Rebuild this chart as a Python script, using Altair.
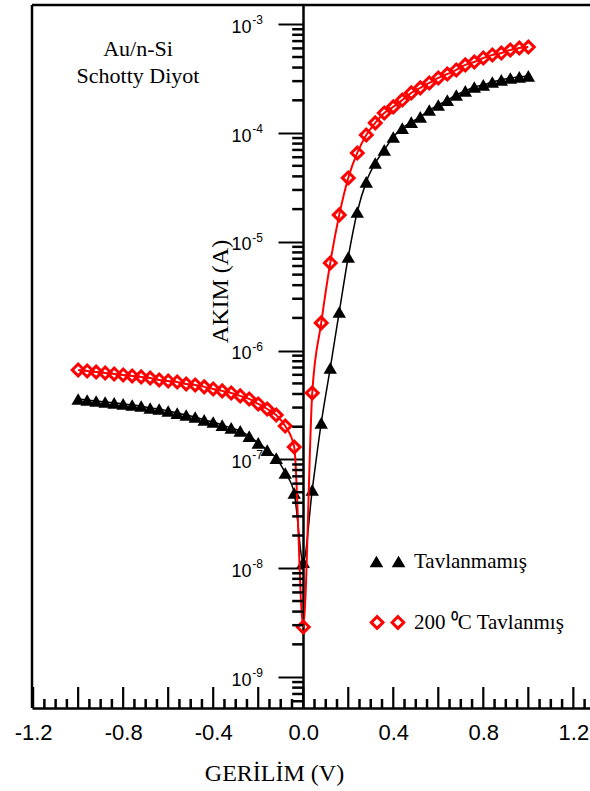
import altair as alt
import pandas as pd

# ---------------- data ----------------
VOLTAGE = [-1.00, -0.96, -0.92, -0.88, -0.84, -0.80, -0.76, -0.72, -0.68, -0.64,
           -0.60, -0.56, -0.52, -0.48, -0.44, -0.40, -0.36, -0.32, -0.28, -0.24,
           -0.20, -0.16, -0.12, -0.08, -0.04, 0.00, 0.04, 0.08, 0.12, 0.16,
           0.20, 0.24, 0.28, 0.32, 0.36, 0.40, 0.44, 0.48, 0.52, 0.56,
           0.60, 0.64, 0.68, 0.72, 0.76, 0.80, 0.84, 0.88, 0.92, 0.96, 1.00]

TAVLANMAMIS = [3.60e-7, 3.52e-7, 3.45e-7, 3.38e-7, 3.31e-7, 3.24e-7, 3.17e-7, 3.10e-7, 2.97e-7, 2.91e-7,
               2.79e-7, 2.67e-7, 2.56e-7, 2.46e-7, 2.31e-7, 2.21e-7, 2.07e-7, 1.95e-7, 1.83e-7, 1.64e-7,
               1.42e-7, 1.22e-7, 1.03e-7, 7.52e-8, 4.92e-8, 1.14e-8, 5.25e-8, 2.17e-7, 6.93e-7, 2.27e-6,
               7.26e-6, 1.88e-5, 3.56e-5, 5.31e-5, 7.00e-5, 9.20e-5, 1.11e-4, 1.26e-4, 1.41e-4, 1.63e-4,
               1.81e-4, 2.01e-4, 2.24e-4, 2.44e-4, 2.65e-4, 2.77e-4, 2.95e-4, 3.08e-4, 3.21e-4, 3.28e-4, 3.35e-4]

TAVLANMIS_200 = [6.65e-7, 6.51e-7, 6.37e-7, 6.24e-7, 6.11e-7, 5.98e-7, 5.86e-7, 5.74e-7, 5.61e-7, 5.38e-7,
                 5.27e-7, 5.16e-7, 4.94e-7, 4.84e-7, 4.65e-7, 4.45e-7, 4.27e-7, 4.09e-7, 3.84e-7, 3.60e-7,
                 3.24e-7, 2.91e-7, 2.56e-7, 2.03e-7, 1.30e-7, 2.89e-9, 4.09e-7, 1.80e-6, 6.40e-6, 1.77e-5,
                 3.87e-5, 6.56e-5, 9.61e-5, 1.24e-4, 1.53e-4, 1.74e-4, 2.01e-4, 2.34e-4, 2.60e-4, 2.89e-4,
                 3.21e-4, 3.49e-4, 3.80e-4, 4.23e-4, 4.50e-4, 4.90e-4, 5.22e-4, 5.44e-4, 5.81e-4, 6.05e-4, 6.18e-4]

SERIES = ["Tavlanmamış", "200 \u2070C Tavlanmış"]
ANNOTATION = ["Au/n-Si", "Schotty Diyot"]

X_LABEL_TICKS = [-1.2, -0.8, -0.4, 0.0, 0.4, 0.8, 1.2]
X_MAJOR_TICKS = [-1.2, -1.0, -0.8, -0.6, -0.4, -0.2, 0.0, 0.2, 0.4, 0.6, 0.8, 1.0, 1.2]
X_MINOR_TICKS = [-1.15, -1.10, -1.05, -0.95, -0.90, -0.85, -0.75, -0.70, -0.65,
                 -0.55, -0.50, -0.45, -0.35, -0.30, -0.25, -0.15, -0.10, -0.05,
                 0.05, 0.10, 0.15, 0.25, 0.30, 0.35, 0.45, 0.50, 0.55,
                 0.65, 0.70, 0.75, 0.85, 0.90, 0.95, 1.05, 1.10, 1.15, 1.25]
Y_EXPONENTS = [-9, -8, -7, -6, -5, -4, -3]
Y_MAJOR_TICKS = [10.0 ** e for e in Y_EXPONENTS]
Y_MINOR_TICKS = [m * 10.0 ** e for e in range(-10, -2) for m in range(2, 10)
                 if 5.2e-10 <= m * 10.0 ** e <= 1.5e-3]

# ---------------- layout ----------------
W, H = 558, 703
XS = alt.Scale(domain=[-1.205, 1.274], nice=False, zero=False)
YS = alt.Scale(type="log", domain=[5.2e-10, 1.503e-3], nice=False)
Y_AXIS_OFFSET = -271
X0_PX = 271.2  # pixel of V = 0 inside the plot (where the y axis sits)

df_black = pd.DataFrame({"v": VOLTAGE, "i": TAVLANMAMIS})
df_red = pd.DataFrame({"v": VOLTAGE, "i": TAVLANMIS_200})
df_sup = pd.DataFrame({"x0": [0.0] * len(Y_EXPONENTS), "y": Y_MAJOR_TICKS,
                       "t": [str(e) for e in Y_EXPONENTS]})
df_leg = pd.DataFrame({"series": SERIES, "v": [0.0, 0.0], "i": [1e-6, 1e-6]})
df_xmaj = pd.DataFrame({"tx": X_MAJOR_TICKS})
df_xmin = pd.DataFrame({"tm": X_MINOR_TICKS})
df_ymin = pd.DataFrame({"ty": Y_MINOR_TICKS})
one = pd.DataFrame({"a": [0]})

x_bottom = alt.Axis(orient="bottom", values=X_LABEL_TICKS,
                    labelExpr="replace(format(datum.value, '.1f'), '\u2212', '-')",
                    ticks=False, domain=True, domainColor="black", domainWidth=2.5,
                    labelFont="Liberation Sans", labelFontSize=22, labelColor="black",
                    labelPadding=14, labelFlush=False, labelOverlap=False, grid=False,
                    title="GERİLİM (V)", titleFont="Liberation Serif", titleFontSize=24,
                    titleFontWeight="normal", titleColor="black", titleX=242, titleY=72,
                    titleAlign="center", titleBaseline="alphabetic")
y_axis = alt.Axis(orient="left", offset=Y_AXIS_OFFSET, values=Y_MAJOR_TICKS,
                  labelExpr="'10'", tickSize=25, tickWidth=2, tickColor="black",
                  domain=True, domainColor="black", domainWidth=2.5,
                  labelFont="Liberation Sans", labelFontSize=18, labelColor="black",
                  labelPadding=27, labelOffset=3, labelFlush=False, labelOverlap=False,
                  grid=False, title="AKIM (A)", titleFont="Liberation Serif",
                  titleFontSize=24, titleFontWeight="normal", titleColor="black",
                  titleX=-83, titleY=286, titleAngle=270, titleAlign="center",
                  titleBaseline="middle")

frame_top = alt.Chart(one).mark_rule(color="black", strokeWidth=2.5).encode(
    x=alt.value(0), x2=alt.value(W), y=alt.value(0))
frame_left = alt.Chart(one).mark_rule(color="black", strokeWidth=2.5).encode(
    x=alt.value(0), y=alt.value(0), y2=alt.value(H))

# x ticks point up into the plot
xt_major = alt.Chart(df_xmaj).mark_rule(color="black", strokeWidth=2.2).encode(
    x=alt.X("tx:Q", scale=XS, axis=None), y=alt.value(H), y2=alt.value(H - 21))
xt_minor = alt.Chart(df_xmin).mark_rule(color="black", strokeWidth=2.5).encode(
    x=alt.X("tm:Q", scale=XS, axis=None), y=alt.value(H), y2=alt.value(H - 9))
# log minor ticks on the left side of the y axis
yt_minor = alt.Chart(df_ymin).mark_rule(color="black", strokeWidth=2.5).encode(
    y=alt.Y("ty:Q", scale=YS, axis=None), x=alt.value(X0_PX), x2=alt.value(X0_PX - 11))

annot = alt.Chart(one).mark_text(
    text=ANNOTATION, font="Liberation Serif", fontSize=22, lineHeight=27,
    align="center", baseline="alphabetic", color="black").encode(
    x=alt.value(106), y=alt.value(51))

sup = alt.Chart(df_sup).mark_text(
    font="Liberation Sans", fontSize=12, align="left", baseline="alphabetic",
    dx=-51, dy=0, color="black").encode(
    x=alt.X("x0:Q", scale=XS, axis=None),
    y=alt.Y("y:Q", scale=YS, axis=None),
    text="t:N")

black_line = alt.Chart(df_black).mark_line(
    color="black", strokeWidth=1.5, interpolate="monotone").encode(
    x=alt.X("v:Q", scale=XS, axis=x_bottom),
    y=alt.Y("i:Q", scale=YS, axis=y_axis))
black_pts = alt.Chart(df_black).mark_point(
    shape="triangle-up", filled=True, color="black", size=180, opacity=1).encode(
    x=alt.X("v:Q", scale=XS, axis=None),
    y=alt.Y("i:Q", scale=YS, axis=None))
red_line = alt.Chart(df_red).mark_line(
    color="#ff0000", strokeWidth=2, interpolate="monotone").encode(
    x=alt.X("v:Q", scale=XS, axis=None),
    y=alt.Y("i:Q", scale=YS, axis=None))
red_pts = alt.Chart(df_red).mark_point(
    shape="diamond", filled=False, color="#ff0000", size=140, strokeWidth=3,
    opacity=1).encode(
    x=alt.X("v:Q", scale=XS, axis=None),
    y=alt.Y("i:Q", scale=YS, axis=None))

TRI2 = "M-2.75,0.9L-1.7,-0.9L-0.65,0.9Z M0.65,0.9L1.7,-0.9L2.75,0.9Z"
DIA2 = "M-2.5,0L-1.6,-0.9L-0.7,0L-1.6,0.9Z M0.7,0L1.6,-0.9L2.5,0L1.6,0.9Z"

legend = alt.Legend(orient="none", legendX=345, legendY=546, title=None,
                    labelFont="Liberation Serif", labelFontSize=21, labelColor="black",
                    labelOffset=16, rowPadding=36, labelLimit=400,
                    symbolSize=169, symbolStrokeWidth=3)
leg_layer = alt.Chart(df_leg).transform_filter("false").mark_point(
    filled=True, size=169, opacity=1, strokeWidth=3).encode(
    x=alt.X("v:Q", scale=XS, axis=None),
    y=alt.Y("i:Q", scale=YS, axis=None),
    shape=alt.Shape("series:N", scale=alt.Scale(domain=SERIES, range=[TRI2, DIA2]),
                    legend=legend),
    fill=alt.Fill("series:N", scale=alt.Scale(domain=SERIES, range=["black", "white"]),
                  legend=legend),
    stroke=alt.Stroke("series:N",
                      scale=alt.Scale(domain=SERIES, range=["rgba(0,0,0,0)", "#ff0000"]),
                      legend=legend))

chart = alt.layer(
    frame_top, frame_left, xt_major, annot, sup,
    black_line, black_pts, red_line, red_pts, leg_layer, xt_minor, yt_minor
).resolve_axis(x="independent", y="independent").properties(
    width=W, height=H,
    autosize=alt.AutoSizeParams(type="none"),
    padding={"left": 32, "top": 5, "right": 0, "bottom": 83},
).configure_view(stroke=None).configure(background="white")

chart.save("out.html", embed_options={"renderer": "svg", "actions": False})
